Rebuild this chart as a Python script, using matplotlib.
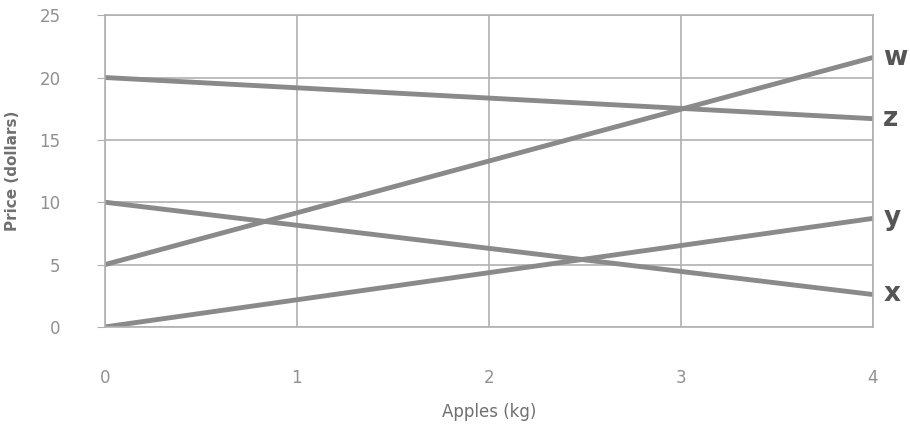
import numpy as np
import matplotlib.pyplot as plt

apples = [0, 4]
w = [5, 21.6]
z = [20, 16.7]
y = [0, 8.7]
x = [10, 2.6]
names = ['w', 'z', 'y', 'x']
series = [w, z, y, x]

fig = plt.figure(figsize=(9.1, 4.33), dpi=100)
ax = fig.add_axes([0.1154, 0.245, 0.8436, 0.72])

for s, n in zip(series, names):
    ax.plot(apples, s, color='#8a8a8a', lw=3.5, solid_capstyle='butt')
    ax.text(4.055, s[-1], n, fontsize=19, fontweight='bold', color='#555555',
            va='center', ha='left')

ax.set_xlim(0, 4)
ax.set_ylim(0, 25)
ax.set_xticks(range(5))
ax.set_yticks(range(0, 26, 5))
ax.grid(True, color='#b0b0b0', lw=1.2)
for sp in ax.spines.values():
    sp.set_color('#b0b0b0')
    sp.set_linewidth(1.2)
ax.tick_params(axis='x', length=0, pad=30, labelsize=12, labelcolor='#909090')
ax.tick_params(axis='y', length=6, color='#b0b0b0', pad=26, labelsize=12, labelcolor='#909090')
ax.set_xlabel('Apples (kg)', fontsize=12, color='#707070', labelpad=12)
ax.set_ylabel('Price (dollars)', fontsize=11, fontweight='bold', color='#707070', labelpad=14)

plt.savefig('out.png', dpi=100)
